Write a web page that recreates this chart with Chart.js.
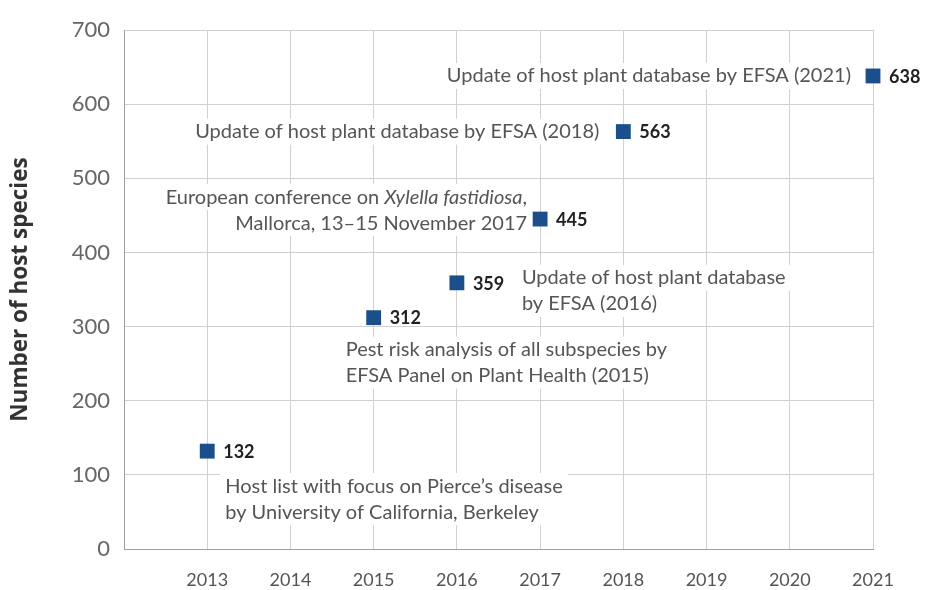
<!DOCTYPE html>
<html>
<head>
<meta charset="utf-8">
<script src="https://cdn.jsdelivr.net/npm/chart.js@4.4.1/dist/chart.umd.min.js"></script>
<style>
html,body{margin:0;padding:0;background:#fff;}
#wrap{width:926px;height:590px;}
</style>
</head>
<body>
<div id="wrap"><canvas id="c" width="926" height="590"></canvas></div>
<script>
// ---- data ----
const years = [2013, 2015, 2016, 2017, 2018, 2021];
const hostSpecies = [132, 312, 359, 445, 563, 638];
const xTickYears = [2013, 2014, 2015, 2016, 2017, 2018, 2019, 2020, 2021];
const yTickValues = [0, 100, 200, 300, 400, 500, 600, 700];
const notes2013 = ["Host list with focus on Pierce\u2019s disease", "by University of California, Berkeley"];
const notes2015 = ["Pest risk analysis of all subspecies by", "EFSA Panel on Plant Health (2015)"];
const notes2016 = ["Update of host plant database", "by EFSA (2016)"];
const notes2017 = ["European conference on _Xylella fastidiosa_,", "Mallorca, 13\u201315 November 2017"];
const notes2018 = ["Update of host plant database by EFSA (2018)"];
const notes2021 = ["Update of host plant database by EFSA (2021)"];
const yTitle = "Number of host species";

// ---- styling / placement (relative to each point) ----
const FONT = "Lato, 'Open Sans', sans-serif";
const noteSize = 20;
const lineH = 26;
const notePlacement = [
  {lines: notes2013, idx: 0, align: 'left',  dx: 18,  dy: 35},
  {lines: notes2015, idx: 1, align: 'left',  dx: -28, dy: 32},
  {lines: notes2016, idx: 2, align: 'left',  dx: 65,  dy: -5},
  {lines: notes2017, idx: 3, align: 'right', dx: -13, dy: -22},
  {lines: notes2018, idx: 4, align: 'right', dx: -24, dy: 0},
  {lines: notes2021, idx: 5, align: 'right', dx: -22, dy: 0}
];

function segs(line) {
  const parts = line.split('_');
  return parts.map((t, i) => ({t, italic: i % 2 === 1})).filter(s => s.t.length);
}
function fontFor(it) { return (it ? 'italic ' : '') + noteSize + 'px ' + FONT; }
function lineWidth(ctx, line) {
  let w = 0;
  for (const s of segs(line)) { ctx.font = fontFor(s.italic); w += ctx.measureText(s.t).width; }
  return w;
}

const notesPlugin = {
  id: 'notes',
  beforeDatasetsDraw(chart) {
    const ctx = chart.ctx;
    const meta = chart.getDatasetMeta(0);
    ctx.save();
    ctx.textBaseline = 'middle';
    for (const n of notePlacement) {
      const pt = meta.data[n.idx];
      const ax = pt.x + n.dx, ay = pt.y + n.dy;
      n.lines.forEach((ln, i) => {
        const w = lineWidth(ctx, ln);
        const x0 = n.align === 'left' ? ax : ax - w;
        const cy = ay + i * lineH;
        ctx.fillStyle = '#fff';
        ctx.fillRect(x0 - 5, cy - lineH / 2, w + 10, lineH);
      });
      n.lines.forEach((ln, i) => {
        const w = lineWidth(ctx, ln);
        let x = n.align === 'left' ? ax : ax - w;
        const cy = ay + i * lineH;
        ctx.fillStyle = '#555555';
        ctx.textAlign = 'left';
        for (const s of segs(ln)) {
          ctx.font = fontFor(s.italic);
          ctx.fillText(s.t, x, cy);
          x += ctx.measureText(s.t).width;
        }
      });
    }
    ctx.restore();
  },
  afterDatasetsDraw(chart) {
    const ctx = chart.ctx;
    const meta = chart.getDatasetMeta(0);
    ctx.save();
    ctx.textBaseline = 'middle';
    ctx.textAlign = 'left';
    ctx.font = 'bold 18px ' + FONT;
    ctx.fillStyle = '#222222';
    meta.data.forEach((pt, i) => {
      ctx.fillText(String(hostSpecies[i]), pt.x + 16, pt.y + 1);
    });
    ctx.restore();
  }
};

new Chart(document.getElementById('c'), {
  type: 'scatter',
  data: {
    datasets: [{
      data: years.map((y, i) => ({x: y, y: hostSpecies[i]})),
      pointStyle: 'rect',
      pointRadius: 10.5,
      pointHoverRadius: 10.5,
      borderWidth: 0,
      backgroundColor: '#1a4f8c',
      clip: false
    }]
  },
  options: {
    responsive: false,
    animation: false,
    events: [],
    layout: {padding: {left: 0, right: 53, top: 30, bottom: 0}},
    plugins: {legend: {display: false}, tooltip: {enabled: false}},
    scales: {
      x: {
        type: 'linear',
        min: 2012, max: 2021,
        afterBuildTicks(scale) { scale.ticks = xTickYears.map(v => ({value: v})); },
        afterFit(scale) { scale.height = 41; },
        grid: {color: '#d0d0d0', drawTicks: false},
        border: {color: '#a0a0a0', width: 1},
        ticks: {
          padding: 20,
          color: '#555555',
          font: {family: FONT, size: 18},
          callback: v => String(v),
          maxRotation: 0
        }
      },
      y: {
        min: 0, max: 700,
        afterBuildTicks(scale) { scale.ticks = yTickValues.map(v => ({value: v})); },
        afterFit(scale) { scale.width = 124; },
        grid: {color: '#d0d0d0', drawTicks: false},
        border: {color: '#a0a0a0', width: 1},
        ticks: {
          padding: 14,
          color: '#666666',
          font: {family: FONT, size: 22}
        },
        title: {
          display: true,
          text: yTitle,
          color: '#333333',
          font: {family: "'Open Sans', sans-serif", size: 22.5, weight: 'bold'},
          padding: {top: 7, bottom: 0}
        }
      }
    }
  },
  plugins: [notesPlugin]
});
</script>
</body>
</html>
